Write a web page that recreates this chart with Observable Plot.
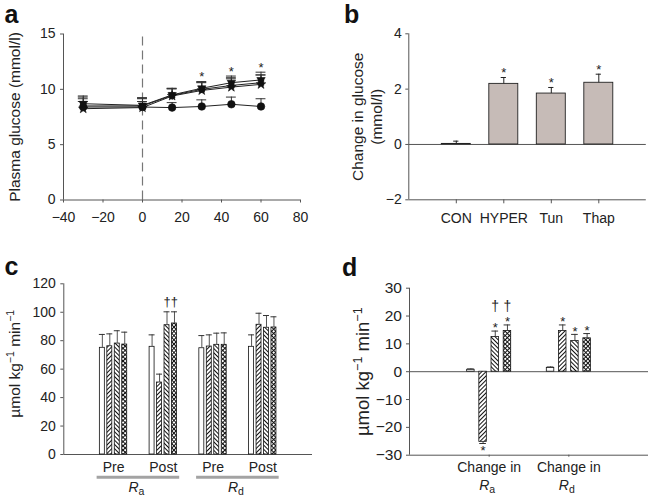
<!DOCTYPE html>
<html><head><meta charset="utf-8">
<script src="https://cdn.jsdelivr.net/npm/d3@7"></script>
<script src="https://cdn.jsdelivr.net/npm/@observablehq/plot@0.6"></script>
<style>
html,body{margin:0;padding:0;background:#fff;}
#wrap{position:relative;width:654px;height:499px;overflow:hidden;background:#fff;}
</style></head><body>
<svg width="0" height="0" style="position:absolute">
<defs>
<pattern id="hUp" patternUnits="userSpaceOnUse" width="3" height="3" patternTransform="rotate(45)">
<rect width="3" height="3" fill="#fff"/><rect width="1" height="3" fill="#111"/></pattern>
<pattern id="hDown" patternUnits="userSpaceOnUse" width="3" height="3" patternTransform="rotate(-45)">
<rect width="3" height="3" fill="#fff"/><rect width="1" height="3" fill="#111"/></pattern>
<pattern id="hCross" patternUnits="userSpaceOnUse" width="3" height="3" patternTransform="rotate(45)">
<rect width="3" height="3" fill="#fff"/><rect width="1" height="3" fill="#111"/><rect width="3" height="1" fill="#111"/></pattern>
</defs></svg>
<div id="wrap"></div>
<script>
// ---------- data ----------
// panel a: plasma glucose over time
const timesA = [-30, 0, 15, 30, 45, 60];
const glucCON      = [8.4, 8.4, 8.35, 8.45, 8.65, 8.45];
const glucCONerr   = [0.5, 0.5, 0.45, 0.6, 0.65, 0.7];
const glucHYPER    = [8.5, 8.5, 9.45, 10.0, 10.35, 10.6];
const glucHYPERerr = [0.8, 0.7, 0.6, 0.6, 0.7, 0.7];
const glucTun      = [8.7, 8.55, 9.5, 10.1, 10.6, 10.85];
const glucTunErr   = [0.7, 0.6, 0.6, 0.6, 0.6, 0.7];
const glucThap     = [8.25, 8.35, 9.4, 9.9, 10.2, 10.45];
const glucThapErr  = [0.9, 0.9, 0.65, 0.75, 0.75, 0.85];
const sigTimesA = [30, 45, 60];

// panel b: change in glucose
const catsB = ["CON", "HYPER", "Tun", "Thap"];
const dGluc = [0.02, 2.19, 1.84, 2.23];
const dGlucErr = [0.1, 0.23, 0.22, 0.31];
const sigB = [false, true, true, true];

// panel c: Ra / Rd, pre and post
const seriesKeys = ["CON", "HYPER", "Tun", "Thap"];
const groupsC = ["Pre", "Post", "Pre", "Post"];
const superC = ["a", "d"];
const rateCON      = [75.0, 75.7, 74.7, 75.7];
const rateCONerr   = [9.4, 8.4, 8.9, 8.4];
const rateHYPER    = [76.1, 50.6, 75.9, 91.2];
const rateHYPERerr = [8.7, 5.9, 8.2, 8.1];
const rateTun      = [78.0, 90.9, 77.1, 89.1];
const rateTunErr   = [9.0, 9.4, 8.2, 8.6];
const rateThap     = [77.3, 92.1, 77.1, 89.3];
const rateThapErr  = [8.7, 8.2, 8.4, 7.5];
const daggerCgroup = [1, 1];
const daggerCseries = [2, 3];

// panel d: change in Ra / Rd
const groupsD = ["Change in", "Change in"];
const superD = ["a", "d"];
const chCON      = [0.7, 1.3];
const chCONerr   = [0.3, 0.4];
const chHYPER    = [-25.2, 14.6];
const chHYPERerr = [0.6, 2.2];
const chTun      = [12.5, 11.0];
const chTunErr   = [2.1, 2.4];
const chThap     = [14.6, 12.0];
const chThapErr  = [2.2, 1.7];
const sigDgroup  = [0, 0, 0, 1, 1, 1];
const sigDseries = [1, 2, 3, 1, 2, 3];
const daggerDgroup = [0, 0];
const daggerDseries = [2, 3];

// ---------- helpers ----------
const FONT = '"Liberation Sans", Arial, Helvetica, sans-serif';
const AX = "#555";
const fills = ["#fff", "url(#hUp)", "url(#hDown)", "url(#hCross)"];
const fmt = d => (d < 0 ? "\u2212" + Math.abs(d) : String(d));
const style = fs => ({fontFamily: FONT, fontSize: fs + "px", color: "#222", background: "transparent", overflow: "visible"});
const wrap = document.getElementById("wrap");
function place(svg, left, top) {
  svg.style.position = "absolute"; svg.style.left = left + "px"; svg.style.top = top + "px";
  svg.style.maxWidth = "none";
  wrap.appendChild(svg);
  return svg;
}
const NS = "http://www.w3.org/2000/svg";
function richify(svg, marker, parts) {
  svg.querySelectorAll("text").forEach(t => {
    if (t.textContent === marker) {
      t.textContent = "";
      parts.forEach(p => {
        const ts = document.createElementNS(NS, "tspan");
        ts.textContent = p.text;
        if (p.dy) ts.setAttribute("dy", p.dy);
        if (p.size) ts.setAttribute("font-size", p.size);
        if (p.italic) ts.setAttribute("font-style", "italic");
        t.appendChild(ts);
      });
    }
  });
}
const unitParts = sup => [
  {text: "\u00b5mol kg"}, {text: "\u22121", dy: -sup, size: "0.68em"},
  {text: " min", dy: sup}, {text: "\u22121", dy: -sup, size: "0.68em"}
];
function groupedRows(nGroups, means, errs, step) {
  const rows = [];
  for (let gi = 0; gi < nGroups; gi++) {
    means.forEach((m, si) => {
      const v = m[gi], e = errs[si][gi];
      rows.push({gi, si, v, e, x: gi + (si - 1.5) * step, top: v >= 0 ? v + e : v - e});
    });
  }
  return rows;
}
const yTitle = (text, dx, dy, fs, extra = {}) =>
  Plot.text([text], {frameAnchor: "left", textAnchor: "middle", lineAnchor: "middle", rotate: -90, dx, dy, fontSize: fs, ...extra});

// ---------- panel a ----------
const seriesA = [
  {name: "CON", v: glucCON, e: glucCONerr, symbol: "circle", rot: 0, r: 3.8},
  {name: "HYPER", v: glucHYPER, e: glucHYPERerr, symbol: "square", rot: 0, r: 3.1},
  {name: "Tun", v: glucTun, e: glucTunErr, symbol: "triangle", rot: 180, r: 3.1},
  {name: "Thap", v: glucThap, e: glucThapErr, symbol: "star", rot: 0, r: 3.0}
];
const rowsA = seriesA.flatMap(s => timesA.map((t, i) => ({s: s.name, t, v: s.v[i], top: s.v[i] + s.e[i], symbol: s.symbol, rot: s.rot, r: s.r})));
const sigRowsA = sigTimesA.map(t => ({t, top: d3.max(rowsA.filter(r => r.t === t), r => r.top)}));

const plotA = Plot.plot({
  width: 327, height: 250, marginLeft: 63, marginRight: 27, marginTop: 33.5, marginBottom: 50.5,
  style: style(14),
  x: {domain: [-40, 80]}, y: {domain: [0, 15]}, r: {type: "identity"},
  marks: [
    Plot.ruleX([0], {y1: 0, y2: 15, stroke: "#777", strokeDasharray: "9,5", strokeWidth: 1.2}),
    Plot.axisY({ticks: [0, 5, 10, 15], tickSize: 3, tickPadding: 5, label: null, stroke: AX}),
    Plot.axisX({ticks: d3.range(-40, 81, 20), tickSize: 3, tickPadding: 9, tickFormat: fmt, label: null, stroke: AX}),
    Plot.ruleX([-40], {stroke: AX}),
    Plot.ruleY([0], {stroke: AX}),
    Plot.ruleX(rowsA, {x: "t", y1: "v", y2: "top", stroke: "#333"}),
    Plot.ruleY(rowsA, {y: "top", x1: d => d.t - 2.5, x2: d => d.t + 2.5, stroke: "#333"}),
    Plot.line(rowsA, {x: "t", y: "v", z: "s", stroke: "#222", strokeWidth: 1}),
    Plot.dot(rowsA, {x: "t", y: "v", symbol: "symbol", rotate: "rot", r: "r", fill: "#111", stroke: "#111", strokeWidth: 0.6}),
    Plot.text(sigRowsA, {x: "t", y: "top", text: () => "*", dy: -4.3, fontSize: 13}),
    yTitle("Plasma glucose (mmol/l)", -48, 0, 15.5)
  ]
});
place(plotA, 0, 0);

// ---------- panel b ----------
const rowsB = catsB.map((c, i) => ({i, c, v: dGluc[i], top: dGluc[i] + dGlucErr[i], sig: sigB[i]}));
const plotB = Plot.plot({
  width: 327, height: 250, marginLeft: 81.3, marginRight: 8.2, marginTop: 33.3, marginBottom: 50.7,
  style: style(14),
  x: {domain: [-1, 4]}, y: {domain: [-2, 4]},
  marks: [
    Plot.ruleY([0], {stroke: "#555"}),
    Plot.axisY({ticks: [-2, 0, 2, 4], tickFormat: fmt, tickSize: 3, tickPadding: 4, label: null, stroke: AX}),
    Plot.axisX({ticks: catsB.map((c, i) => i), tickFormat: i => catsB[i], tickSize: 4, tickPadding: 9, label: null, stroke: AX}),
    Plot.ruleX([-1], {stroke: AX}),
    Plot.ruleY([-2], {stroke: AX}),
    Plot.rect(rowsB, {x1: d => d.i - 0.305, x2: d => d.i + 0.305, y1: () => 0, y2: "v", fill: "#c6bbb7", stroke: "#222", strokeWidth: 0.9}),
    Plot.ruleX(rowsB, {x: "i", y1: "v", y2: "top", stroke: "#222"}),
    Plot.ruleY(rowsB, {y: "top", x1: d => d.i - 0.055, x2: d => d.i + 0.055, stroke: "#222"}),
    Plot.text(rowsB.filter(d => d.sig), {x: "i", y: "top", text: () => "*", dy: -4.8, fontSize: 13}),
    yTitle("Change in glucose\n(mmol/l)", -42, 0, 15.5, {lineHeight: 1.2})
  ]
});
place(plotB, 327, 0);

// ---------- panel c ----------
const stepC = 0.15, halfC = 0.05, capC = 0.06;
const rowsC = groupedRows(groupsC.length, [rateCON, rateHYPER, rateTun, rateThap], [rateCONerr, rateHYPERerr, rateTunErr, rateThapErr], stepC);
const dagC = daggerCgroup.map((g, k) => rowsC.find(r => r.gi === g && r.si === daggerCseries[k]));
const dagTopC = d3.max(dagC, r => r.top);
const plotC = Plot.plot({
  width: 327, height: 249, marginLeft: 63.3, marginRight: 15, marginTop: 33.3, marginBottom: 45,
  style: style(14),
  x: {domain: [-1, 4]}, y: {domain: [0, 120]},
  marks: [
    Plot.axisY({ticks: d3.range(0, 121, 20), tickSize: 3, tickPadding: 5, label: null, stroke: AX}),
    Plot.axisX({ticks: groupsC.map((g, i) => i), tickFormat: i => groupsC[i], tickSize: 0, tickPadding: 8, label: null}),
    Plot.ruleX([-1], {stroke: AX}),
    Plot.ruleY([0], {stroke: AX}),
    ...seriesKeys.map((k, si) => Plot.rect(rowsC.filter(r => r.si === si), {
      x1: r => r.x - halfC, x2: r => r.x + halfC, y1: () => 0, y2: "v", fill: fills[si], stroke: "#111", strokeWidth: 0.8})),
    Plot.ruleX(rowsC, {x: "x", y1: "v", y2: "top", stroke: "#555"}),
    Plot.ruleY(rowsC, {y: "top", x1: r => r.x - capC, x2: r => r.x + capC, stroke: "#333"}),
    Plot.text(dagC, {x: "x", y: () => dagTopC, text: () => "\u2020", dy: -9.6, fontSize: 13}),
    Plot.ruleY(superC, {y: () => 0, x1: (d, i) => 2 * i - 0.33, x2: (d, i) => 2 * i + 1.33, dy: 22.7, stroke: "#a3a3a3", strokeWidth: 3}),
    Plot.text(superC, {x: (d, i) => 2 * i + 0.5, y: () => 0, text: d => "R_" + d, lineAnchor: "top", dy: 27.7, dx: -2, fontSize: 14}),
    yTitle("UNITC", -48.3, -5.4, 15.5)
  ]
});
place(plotC, 0, 250);
superC.forEach(s => richify(plotC, "R_" + s, [{text: "R", italic: true}, {text: s, dy: 3.3, size: "10.5px"}]));
richify(plotC, "UNITC", unitParts(6));

// ---------- panel d ----------
const stepD = 0.153, halfD = 0.047, capD = 0.042;
const rowsD = groupedRows(groupsD.length, [chCON, chHYPER, chTun, chThap], [chCONerr, chHYPERerr, chTunErr, chThapErr], stepD);
const sigD = sigDgroup.map((g, k) => rowsD.find(r => r.gi === g && r.si === sigDseries[k]));
const dagD = daggerDgroup.map((g, k) => rowsD.find(r => r.gi === g && r.si === daggerDseries[k]));
const dagTopD = d3.max(dagD, r => r.top);
const plotD = Plot.plot({
  width: 327, height: 249, marginLeft: 82, marginRight: 6, marginTop: 37.7, marginBottom: 44.3,
  style: style(14),
  x: {domain: [-1, 2]}, y: {domain: [-30, 30]},
  marks: [
    Plot.ruleY([0], {stroke: "#555"}),
    Plot.axisY({ticks: d3.range(-30, 31, 10), tickFormat: fmt, tickSize: 3, tickPadding: 4.5, label: null, stroke: AX, fontSize: 15.5}),
    Plot.axisX({ticks: groupsD.map((g, i) => i), tickFormat: i => groupsD[i], tickSize: 2, tickPadding: 5, label: null, stroke: AX}),
    Plot.ruleX([-1], {stroke: AX}),
    Plot.ruleY([-30], {stroke: AX}),
    ...seriesKeys.map((k, si) => Plot.rect(rowsD.filter(r => r.si === si), {
      x1: r => r.x - halfD, x2: r => r.x + halfD, y1: () => 0, y2: "v", fill: fills[si], stroke: "#111", strokeWidth: 0.8})),
    Plot.ruleX(rowsD, {x: "x", y1: "v", y2: "top", stroke: "#444"}),
    Plot.ruleY(rowsD, {y: "top", x1: r => r.x - capD, x2: r => r.x + capD, stroke: "#333"}),
    Plot.text(sigD.filter(r => r.v >= 0), {x: "x", y: "top", text: () => "*", dy: -2.8, fontSize: 13}),
    Plot.text(sigD.filter(r => r.v < 0), {x: "x", y: "top", text: () => "*", dy: 7, fontSize: 13}),
    Plot.text(dagD, {x: "x", y: () => dagTopD, text: () => "\u2020", dy: -18.6, fontSize: 14}),
    Plot.text(superD, {x: (d, i) => i, y: () => -30, text: d => "R_" + d, lineAnchor: "top", dy: 25.3, dx: -2, fontSize: 14}),
    yTitle("UNITD", -46, 0, 18.5)
  ]
});
place(plotD, 327, 250);
superD.forEach(s => richify(plotD, "R_" + s, [{text: "R", italic: true}, {text: s, dy: 2.5, size: "10.5px"}]));
richify(plotD, "UNITD", unitParts(7));

// ---------- panel letters ----------
const lab = document.createElementNS(NS, "svg");
lab.setAttribute("width", 654); lab.setAttribute("height", 499);
lab.style.position = "absolute"; lab.style.left = "0px"; lab.style.top = "0px"; lab.style.pointerEvents = "none";
[["a", 4.5, 23.3], ["b", 344, 23.3], ["c", 4.5, 275], ["d", 342, 276]].forEach(([t, x, y]) => {
  const el = document.createElementNS(NS, "text");
  el.setAttribute("x", x); el.setAttribute("y", y);
  el.setAttribute("font-family", FONT); el.setAttribute("font-size", "25"); el.setAttribute("font-weight", "bold");
  el.setAttribute("fill", "#111");
  el.textContent = t;
  lab.appendChild(el);
});
wrap.appendChild(lab);
</script>
</body></html>
